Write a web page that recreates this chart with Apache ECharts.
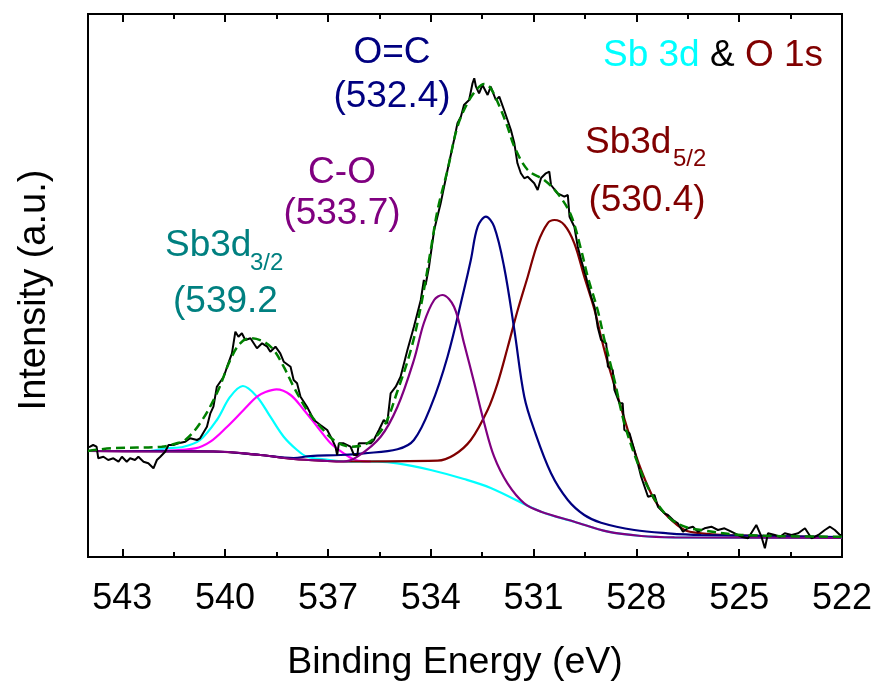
<!DOCTYPE html>
<html><head><meta charset="utf-8">
<script src="https://cdn.jsdelivr.net/npm/echarts@6/dist/echarts.min.js"></script>
<style>html,body{margin:0;padding:0;background:#fff}#c{width:877px;height:690px}</style>
</head><body><div id="c"></div>
<script>
// Tick labels of the Binding Energy axis (eV)
const xTickLabels = [543, 540, 537, 534, 531, 528, 525, 522];

// Raw measured spectrum [binding energy (eV), intensity (a.u.)]
const rawData = [[544.00,110],[543.94,110.3],[543.85,112],[543.75,110.3],[543.70,98.7],[543.55,100.3],[543.41,97],[543.26,98.7],[543.11,95.3],[543.01,100.3],[542.87,95.3],[542.77,98.7],[542.63,97],[542.53,100.3],[542.38,95.3],[542.24,93.7],[542.09,88.7],[541.99,97],[541.89,100.3],[541.75,105.3],[541.65,112],[541.51,112],[541.36,113.7],[541.16,115.3],[541.02,118.7],[540.82,117],[540.73,118.7],[540.53,130.3],[540.43,143.7],[540.34,150.3],[540.24,170.3],[540.04,180.3],[539.94,190.3],[539.80,203.7],[539.70,225.3],[539.61,220.3],[539.51,223.7],[539.41,217],[539.26,218.7],[539.07,208.7],[538.92,213.7],[538.77,210.3],[538.68,205.3],[538.53,210.3],[538.39,203.7],[538.29,195.3],[538.09,190.3],[538.00,177],[537.90,173.7],[537.80,160.3],[537.61,150.3],[537.41,137],[537.22,132],[537.02,127],[536.87,117],[536.78,110.3],[536.73,102],[536.68,113.7],[536.54,113.7],[536.34,110.3],[536.24,102],[536.14,102],[536.10,113.7],[535.95,113.7],[535.75,113.7],[535.66,117],[535.56,123.7],[535.51,127],[535.37,137],[535.27,133.7],[535.17,163.7],[535.02,170.3],[534.88,180.3],[534.68,207],[534.49,230.3],[534.29,257],[534.20,277],[534.15,272],[534.05,290.3],[533.90,327],[533.71,353.7],[533.51,387],[533.32,417],[533.22,433.7],[533.12,440.3],[533.03,452],[532.88,457],[532.78,473.7],[532.73,478.7],[532.68,470.3],[532.59,463.7],[532.49,472],[532.34,462],[532.25,470.3],[532.10,457],[532.00,460.3],[531.86,447],[531.76,437],[531.66,427],[531.56,413.7],[531.47,393.7],[531.37,383.7],[531.27,378.7],[531.17,380.3],[530.98,373.7],[530.88,367],[530.78,379],[530.64,383.7],[530.54,385.3],[530.49,372],[530.30,363.7],[530.10,360.3],[530.00,362],[529.95,340.3],[529.81,330.3],[529.71,310.3],[529.61,297],[529.47,280.3],[529.32,260.3],[529.22,250.3],[529.13,230.3],[529.03,217],[528.88,213.7],[528.83,190.3],[528.69,187],[528.64,167],[528.49,153.7],[528.40,153.7],[528.35,127],[528.20,123.7],[528.06,107],[527.96,93.7],[527.86,80.3],[527.66,60.3],[527.47,62],[527.37,50.3],[527.18,43.7],[527.08,42],[526.93,37],[526.79,33.7],[526.64,25.3],[526.50,28.7],[526.35,30.3],[526.20,25.3],[526.01,28.7],[525.81,30.3],[525.62,27],[525.43,28.7],[525.23,25.3],[524.94,20.3],[524.74,18.7],[524.50,32],[524.35,20.3],[524.25,8.7],[524.16,23.7],[523.96,22],[523.81,20.3],[523.67,23.7],[523.47,22],[523.28,23.7],[523.08,28.7],[522.89,18.7],[522.69,22],[522.50,27],[522.35,30.3],[522.21,27],[522.06,22],[522.00,22]];

// Cumulative fit envelope
const fitSum = [[544.00,106],[543.31,108.7],[541.85,110.3],[541.41,113.7],[541.16,117],[540.73,133.7],[540.24,163.7],[539.85,197],[539.56,213.7],[539.26,218.7],[538.87,215.3],[538.58,207],[538.29,190.3],[538.00,170.3],[537.61,147],[537.22,130.3],[536.83,117],[536.34,110.3],[535.85,113.7],[535.37,130.3],[534.96,167],[534.58,207],[534.29,250.3],[534.00,307],[533.80,347],[533.51,387],[533.22,430.3],[532.93,453.7],[532.63,468.7],[532.44,473],[532.25,468.7],[531.95,447],[531.76,430.3],[531.56,410.3],[531.17,387],[530.69,377],[530.30,363.7],[529.91,342],[529.61,307],[529.42,280.3],[529.13,247],[528.93,217],[528.64,177],[528.35,133.7],[527.96,93.7],[527.57,63.7],[527.08,40.3],[526.59,30.3],[526.11,27],[524.94,22],[522.01,20.3]];

// Sb 3d3/2 component (cyan)
const sb3d32A = [[544.00,106],[542.19,106],[541.75,108.7],[541.21,110.3],[540.73,117],[540.24,137],[539.85,160.3],[539.48,171],[539.07,160.3],[538.68,140.3],[538.29,120.3],[537.90,107],[537.61,100.3],[537.12,97.7],[536.34,95.3],[535.55,95.3],[534.97,93.7],[534.00,87],[533.03,78],[532.25,69],[530.78,45.3],[529.81,35.3],[528.83,25.3],[527.86,21],[526.89,19.7],[522.01,19]];

// Sb 3d3/2 second component (magenta)
const sb3d32B = [[544.00,106],[542.19,106],[540.87,108.7],[540.43,115.3],[539.94,130.3],[539.46,147],[539.07,160.3],[538.82,165],[538.50,167.7],[538.09,162],[537.70,147],[537.31,130.3],[536.92,113.7],[536.54,103.7],[536.19,97],[535.75,95.5]];

// C-O component (purple)
const coPeak = [[544.00,106],[542.19,105.5],[540.34,105.5],[538.97,102],[538.00,98],[537.02,96],[536.54,95.5],[536.14,100.3],[535.46,120.3],[534.97,150.3],[534.49,197],[534.20,234],[533.90,257],[533.66,262],[533.32,250.3],[533.03,214],[532.73,174],[532.44,134],[532.15,100.3],[531.76,73.7],[531.27,53.7],[530.78,45.3],[529.81,35.3],[528.83,25.3],[527.86,21],[526.89,19.7],[522.01,19]];

// O=C component (navy)
const ocPeak = [[544.00,106],[540.34,105.5],[538.97,102],[538.00,99],[537.51,101],[536.63,102],[535.95,103.7],[534.97,107.7],[534.49,117],[534.00,150.3],[533.51,200.3],[533.03,267],[532.83,297],[532.63,330.3],[532.39,340.3],[532.15,330.3],[531.86,290.3],[531.56,227],[531.27,160.3],[530.98,127],[530.49,83.7],[530.00,57],[529.52,42],[529.03,34.3],[528.06,27],[527.08,23.7],[526.11,22],[522.01,20]];

// Sb 3d5/2 component (wine)
const sb3d52 = [[544.00,106],[540.34,105.5],[538.97,102],[538.00,98],[537.02,96],[536.54,95.5],[533.80,96.3],[533.32,102],[532.83,117],[532.34,147],[532.05,173.7],[531.76,209],[531.47,246],[531.17,280.3],[530.88,313.7],[530.59,333.7],[530.39,337],[530.10,332],[529.81,313.7],[529.52,280.3],[529.22,247],[529.03,220],[528.83,193.7],[528.54,160.3],[528.25,127],[527.86,87],[527.47,57],[527.08,40.3],[526.59,27],[526.11,23.7],[525.43,22],[522.01,19.7]];

const FONT = '"Liberation Sans", Arial, sans-serif';
const chart = echarts.init(document.getElementById('c'), null, {renderer: 'canvas'});

function tickAxis(position, interval, len, labels) {
  return {
    type: 'value', position: position, inverse: true, min: 522, max: 544, interval: interval,
    axisLine: {show: false},
    axisTick: {show: true, inside: true, length: len, lineStyle: {color: '#000', width: 2}},
    axisLabel: labels ? {
      show: true, margin: 24, color: '#000', fontSize: 36, fontFamily: FONT,
      formatter: function (v) { return xTickLabels.indexOf(Math.round(v * 100) / 100) >= 0 ? String(v) : ''; }
    } : {show: false},
    splitLine: {show: false}
  };
}

function comp(name, data, color, z) {
  return {name: name, type: 'line', data: data, showSymbol: false, smooth: 0.35, z: z,
    lineStyle: {color: color, width: 2.2}, silent: true};
}

const txt = (text, x, y, color, size, align) => ({
  type: 'text', x: x, y: y, silent: true,
  style: {text: text, fill: color, font: size + 'px ' + FONT, textAlign: align || 'center', textVerticalAlign: 'middle'}
});

chart.setOption({
  animation: false,
  backgroundColor: '#fff',
  grid: {left: 88, right: 35, top: 14, bottom: 133, show: true, borderColor: '#000', borderWidth: 2, backgroundColor: 'transparent'},
  xAxis: [tickAxis('bottom', 3, 8, true), tickAxis('bottom', 1.5, 5, false), tickAxis('top', 3, 8, false), tickAxis('top', 1.5, 5, false)],
  yAxis: {type: 'value', min: 0, max: 543, axisLine: {show: false}, axisTick: {show: false}, axisLabel: {show: false}, splitLine: {show: false}},
  series: [
    comp('Sb3d3/2 a', sb3d32A, '#00ffff', 2),
    comp('Sb3d3/2 b', sb3d32B, '#ff00ff', 3),
    comp('Sb3d5/2', sb3d52, '#800000', 4),
    comp('O=C', ocPeak, '#000080', 5),
    comp('C-O', coPeak, '#800080', 6),
    {name: 'raw', type: 'line', data: rawData, showSymbol: false, z: 7, silent: true, lineStyle: {color: '#000', width: 2}},
    {name: 'fit', type: 'line', data: fitSum, showSymbol: false, smooth: 0.35, z: 8, silent: true, lineStyle: {color: '#008000', width: 2.5, type: [9, 5]}}
  ],
  graphic: [
    txt('Binding Energy (eV)', 455, 663, '#000', 37.5),
    Object.assign(txt('Intensity (a.u.)', 35, 290, '#000', 38), {rotation: Math.PI / 2}),
    txt('O=C', 392, 53, '#000080', 37),
    txt('(532.4)', 392, 97, '#000080', 37),
    txt('C-O', 342, 173, '#800080', 37),
    txt('(533.7)', 342, 214, '#800080', 37),
    txt('Sb3d', 585, 143, '#800000', 37, 'left'),
    txt('5/2', 673, 159, '#800000', 24, 'left'),
    txt('(530.4)', 647, 201, '#800000', 37),
    txt('Sb3d', 165, 246, '#008080', 37, 'left'),
    txt('3/2', 250, 263, '#008080', 24, 'left'),
    txt('(539.2', 173, 302, '#008080', 37, 'left'),
    {type: 'text', x: 603, y: 56, silent: true, style: {text: '{c|Sb 3d} {k|&} {r|O 1s}', font: '37px ' + FONT, textAlign: 'left', textVerticalAlign: 'middle',
      rich: {c: {fill: '#00ffff', font: '37px ' + FONT}, k: {fill: '#000', font: '37px ' + FONT}, r: {fill: '#800000', font: '37px ' + FONT}}}}
  ]
});
</script>
</body></html>
